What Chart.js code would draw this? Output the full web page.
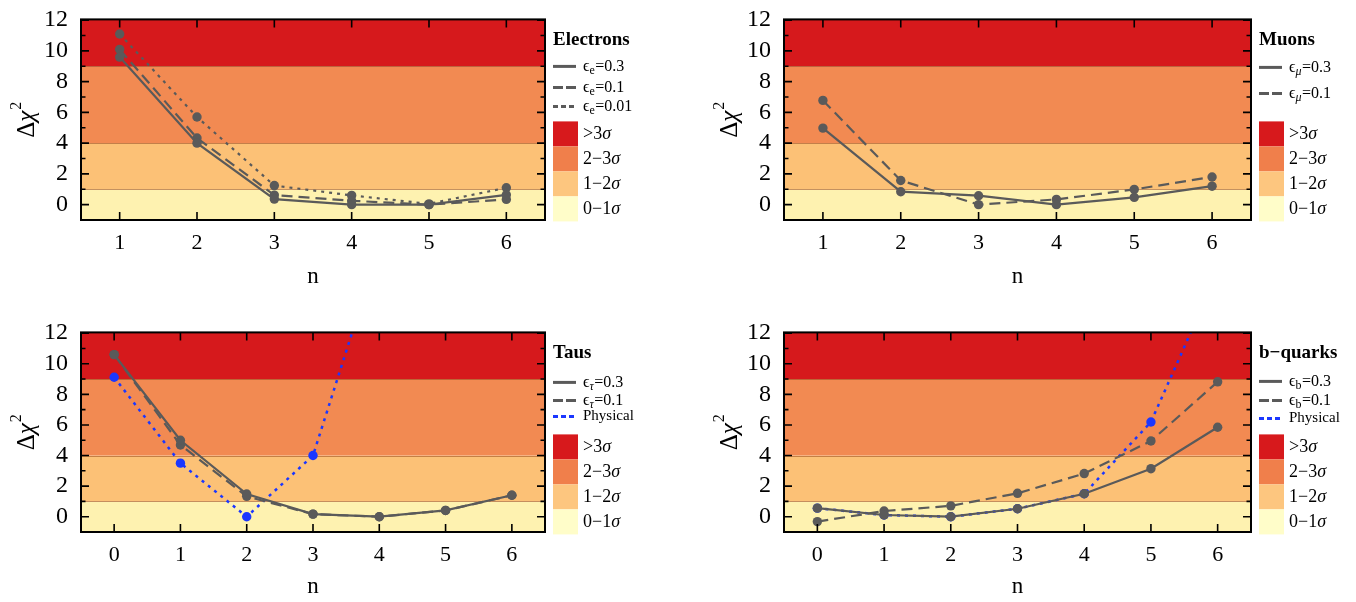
<!DOCTYPE html>
<html>
<head>
<meta charset="utf-8">
<script src="https://cdn.jsdelivr.net/npm/chart.js@4.4.1/dist/chart.umd.min.js"></script>
<style>
  body { margin: 0; background: #fff; }
  #fig { position: relative; width: 1356px; height: 602px; overflow: hidden; }
  #fig canvas { position: absolute; }
</style>
</head>
<body>
<div id="fig">
  <canvas id="c1" width="650" height="300" style="left:0;top:0"></canvas>
  <canvas id="c2" width="676" height="300" style="left:680px;top:0"></canvas>
  <canvas id="c3" width="650" height="289" style="left:0;top:313px"></canvas>
  <canvas id="c4" width="676" height="289" style="left:680px;top:313px"></canvas>
</div>
<script>
// ---- data ----
const nOneToSix = [1, 2, 3, 4, 5, 6];
const nZeroToSix = [0, 1, 2, 3, 4, 5, 6];

const electrons03 = [9.6, 4.0, 0.36, 0.0, 0.0, 0.64];
const electrons01 = [10.1, 4.33, 0.62, 0.25, 0.0, 0.34];
const electrons001 = [11.1, 5.7, 1.24, 0.6, 0.05, 1.1];

const muons03 = [4.98, 0.84, 0.58, 0.0, 0.47, 1.2];
const muons01 = [6.78, 1.57, 0.0, 0.34, 0.99, 1.8];

const taus03 = [10.6, 5.0, 1.48, 0.17, 0.0, 0.41, 1.4];
const taus01 = [10.6, 4.69, 1.33, 0.17, 0.0, 0.41, 1.4];
const tausPhysical = [9.12, 3.5, 0.0, 4.0, 17.6];

const bquarks03 = [0.56, 0.11, 0.0, 0.52, 1.5, 3.14, 5.85];
const bquarks01 = [-0.32, 0.37, 0.71, 1.53, 2.82, 4.95, 8.82];
const bquarksPhysical = [0.56, 0.11, 0.0, 0.52, 1.5, 6.19, 16.0];

const yTicks = [0, 2, 4, 6, 8, 10, 12];
const bandEdges = [1, 4, 9];
const bandLabels = ["0\u22121", "1\u22122", "2\u22123", ">3"];
const bandColors = ["#fef2b0", "#fcc176", "#f28a52", "#d6191c"];
const legendBoxColors = ["#fffdc9", "#fdc67f", "#f07f4b", "#d7191c"];

const GRAY = "#5a5a5a";
const BLUE = "#1b37ff";
const SERIF = "'Liberation Serif', 'DejaVu Serif', serif";

function pts(xs, ys) {
  return ys.map((v, i) => ({ x: xs[i], y: v }));
}

function series(xs, ys, style, color) {
  const dash = style === "dashed" ? [11, 6] : style === "dotted" ? [3, 5] : [];
  return {
    data: pts(xs, ys),
    borderColor: color || GRAY,
    backgroundColor: color || GRAY,
    borderWidth: color ? 2.5 : 2.2,
    borderDash: dash,
    pointRadius: 4.7,
    pointHoverRadius: 4.7,
    pointBorderWidth: 0,
    tension: 0,
  };
}

// colour bands behind the data
const bandPlugin = {
  id: "bands",
  beforeDatasetsDraw(chart) {
    const { ctx, chartArea: a } = chart;
    const y = chart.scales.y;
    const edges = [y.min, ...bandEdges, y.max];
    ctx.save();
    for (let i = 0; i < bandColors.length; i++) {
      const top = y.getPixelForValue(edges[i + 1]);
      const bot = y.getPixelForValue(edges[i]);
      ctx.fillStyle = bandColors[i];
      ctx.fillRect(a.left, top, a.right - a.left, bot - top);
    }
    ctx.strokeStyle = "rgba(150,75,30,0.55)";
    ctx.lineWidth = 1;
    bandEdges.forEach((v) => {
      const py = Math.round(y.getPixelForValue(v)) + 0.5;
      ctx.beginPath();
      ctx.moveTo(a.left, py);
      ctx.lineTo(a.right, py);
      ctx.stroke();
    });
    ctx.restore();
  },
};

// mathematica-like frame with inward ticks, plus the rotated y title
const framePlugin = {
  id: "frame",
  afterDatasetsDraw(chart) {
    const { ctx, chartArea: a } = chart;
    const { x, y } = chart.scales;
    ctx.save();
    ctx.strokeStyle = "#000";
    ctx.lineWidth = 1.6;
    ctx.beginPath();
    x.ticks.forEach((t) => {
      const px = x.getPixelForValue(t.value);
      ctx.moveTo(px, a.bottom);
      ctx.lineTo(px, a.bottom - 8);
      ctx.moveTo(px, a.top);
      ctx.lineTo(px, a.top + 8);
    });
    for (let v = -1; v <= 12; v++) {
      const len = v % 2 === 0 ? 8 : 4.5;
      const py = y.getPixelForValue(v);
      ctx.moveTo(a.left, py);
      ctx.lineTo(a.left + len, py);
      ctx.moveTo(a.right, py);
      ctx.lineTo(a.right - len, py);
    }
    ctx.stroke();
    ctx.lineWidth = 2;
    ctx.strokeRect(a.left, a.top, a.right - a.left, a.bottom - a.top);

    // y title: Δχ²
    ctx.translate(a.left - 54, (a.top + a.bottom) / 2);
    ctx.rotate(-Math.PI / 2);
    ctx.fillStyle = "#000";
    ctx.textBaseline = "middle";
    ctx.font = "25px " + SERIF;
    const wD = ctx.measureText("\u0394").width;
    ctx.font = "italic 25px " + SERIF;
    const wC = ctx.measureText("\u03c7").width;
    ctx.font = "16px " + SERIF;
    const w2 = ctx.measureText("2").width;
    let tx = -(wD + wC + w2 + 1) / 2;
    ctx.font = "25px " + SERIF;
    ctx.fillText("\u0394", tx, 0);
    tx += wD;
    ctx.font = "italic 25px " + SERIF;
    ctx.fillText("\u03c7", tx, 0);
    tx += wC + 1;
    ctx.font = "16px " + SERIF;
    ctx.fillText("2", tx, -10);
    ctx.restore();
  },
};

function drawSubLabel(ctx, x, y, sub, italicSub, rest) {
  ctx.font = "16px " + SERIF;
  ctx.fillText("\u03f5", x, y);
  x += ctx.measureText("\u03f5").width;
  ctx.font = (italicSub ? "italic " : "") + "12px " + SERIF;
  ctx.fillText(sub, x, y + 4);
  x += ctx.measureText(sub).width + 0.5;
  ctx.font = "16px " + SERIF;
  ctx.fillText(rest, x, y);
}

// legend drawn at the right of the frame
const legendPlugin = {
  id: "panelLegend",
  afterDraw(chart, args, opts) {
    const { ctx, chartArea: a } = chart;
    const x0 = a.right + 8;
    ctx.save();
    ctx.fillStyle = "#000";
    ctx.textBaseline = "middle";
    ctx.font = "bold 19px " + SERIF;
    ctx.fillText(opts.title, x0, a.top + 21);
    opts.entries.forEach((e, i) => {
      const yy = a.top + opts.rows[i];
      ctx.strokeStyle = e.color || GRAY;
      ctx.lineWidth = 3;
      ctx.setLineDash(e.style === "dashed" ? [10, 3] : e.style === "dotted" ? [5, 3] : []);
      ctx.beginPath();
      ctx.moveTo(x0, yy);
      ctx.lineTo(x0 + 23, yy);
      ctx.stroke();
      ctx.setLineDash([]);
      ctx.fillStyle = "#000";
      if (e.sub) {
        drawSubLabel(ctx, x0 + 30, yy, e.sub, e.italicSub, e.rest);
      } else {
        ctx.font = "15px " + SERIF;
        ctx.fillText(e.rest, x0 + 30, yy);
      }
    });
    const boxTop = a.top + 102;
    for (let k = 0; k < 4; k++) {
      const idx = 3 - k;
      const by = boxTop + k * 25;
      ctx.fillStyle = legendBoxColors[idx];
      ctx.fillRect(x0, by, 25, 25);
      ctx.fillStyle = "#000";
      ctx.font = "18px " + SERIF;
      const lbl = bandLabels[idx];
      ctx.fillText(lbl, x0 + 30, by + 13);
      const w = ctx.measureText(lbl).width;
      ctx.font = "italic 18px " + SERIF;
      ctx.fillText("\u03c3", x0 + 30 + w, by + 13);
    }
    ctx.restore();
  },
};

function makeChart(id, xs, xMin, xMax, datasets, yWidth, xHeight, padBottom, titlePadBottom, legend) {
  return new Chart(document.getElementById(id), {
    type: "line",
    data: { datasets },
    plugins: [bandPlugin, framePlugin, legendPlugin],
    options: {
      responsive: false,
      animation: false,
      devicePixelRatio: 1,
      layout: { padding: { top: 16, right: 105, bottom: padBottom, left: 0 } },
      plugins: { legend: { display: false }, tooltip: { enabled: false }, panelLegend: legend },
      scales: {
        x: {
          type: "linear",
          min: xMin,
          max: xMax,
          afterBuildTicks: (s) => { s.ticks = xs.map((v) => ({ value: v })); },
          afterFit: (s) => { s.height = xHeight; },
          grid: { display: false },
          border: { display: false },
          ticks: { color: "#000", font: { family: SERIF, size: 22 }, padding: 2, maxRotation: 0 },
          title: {
            display: true, text: "n", color: "#000",
            font: { family: SERIF, size: 23 },
            padding: { top: 4, bottom: titlePadBottom },
          },
        },
        y: {
          min: -1,
          max: 12.05,
          afterBuildTicks: (s) => { s.ticks = yTicks.map((v) => ({ value: v })); },
          afterFit: (s) => { s.width = yWidth; },
          grid: { display: false },
          border: { display: false },
          ticks: { color: "#000", font: { family: SERIF, size: 24 }, padding: 5 },
        },
      },
    },
  });
}

makeChart("c1", nOneToSix, 0.5, 6.5, [
  series(nOneToSix, electrons03, "solid"),
  series(nOneToSix, electrons01, "dashed"),
  series(nOneToSix, electrons001, "dotted"),
], 81, 75, 5, 4, {
  title: "Electrons",
  rows: [47, 68, 87],
  entries: [
    { style: "solid", sub: "e", rest: "=0.3" },
    { style: "dashed", sub: "e", rest: "=0.1" },
    { style: "dotted", sub: "e", rest: "=0.01" },
  ],
});

makeChart("c2", nOneToSix, 0.5, 6.5, [
  series(nOneToSix, muons03, "solid"),
  series(nOneToSix, muons01, "dashed"),
], 104, 75, 5, 4, {
  title: "Muons",
  rows: [48, 74],
  entries: [
    { style: "solid", sub: "\u03bc", italicSub: true, rest: "=0.3" },
    { style: "dashed", sub: "\u03bc", italicSub: true, rest: "=0.1" },
  ],
});

makeChart("c3", nZeroToSix, -0.5, 6.5, [
  series(nZeroToSix, taus03, "solid"),
  series(nZeroToSix, taus01, "dashed"),
  series(nZeroToSix, tausPhysical, "dotted", BLUE),
], 81, 70, 0, 1, {
  title: "Taus",
  rows: [50, 68, 84],
  entries: [
    { style: "solid", sub: "\u03c4", italicSub: true, rest: "=0.3" },
    { style: "dashed", sub: "\u03c4", italicSub: true, rest: "=0.1" },
    { style: "dotted", color: BLUE, rest: "Physical" },
  ],
});

makeChart("c4", nZeroToSix, -0.5, 6.5, [
  series(nZeroToSix, bquarks03, "solid"),
  series(nZeroToSix, bquarks01, "dashed"),
  series(nZeroToSix, bquarksPhysical, "dotted", BLUE),
], 104, 70, 0, 1, {
  title: "b\u2212quarks",
  rows: [49, 68, 86],
  entries: [
    { style: "solid", sub: "b", rest: "=0.3" },
    { style: "dashed", sub: "b", rest: "=0.1" },
    { style: "dotted", color: BLUE, rest: "Physical" },
  ],
});
</script>
</body>
</html>
